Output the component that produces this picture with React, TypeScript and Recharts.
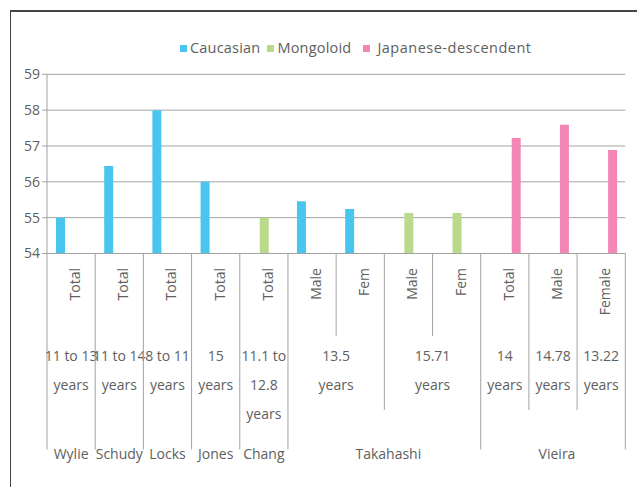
import { BarChart, Bar, XAxis, YAxis, CartesianGrid, Legend } from 'recharts'

const SUB_LABELS = ['Total', 'Total', 'Total', 'Total', 'Total', 'Male', 'Fem', 'Male', 'Fem', 'Total', 'Male', 'Female']
const AGES = [
    '11 to 13\nyears',
    '11 to 14\nyears',
    '8 to 11\nyears',
    '15\nyears',
    '11.1 to\n12.8\nyears',
    '13.5\nyears',
    '13.5\nyears',
    '15.71\nyears',
    '15.71\nyears',
    '14\nyears',
    '14.78\nyears',
    '13.22\nyears',
]
const AUTHORS = ['Wylie', 'Schudy', 'Locks', 'Jones', 'Chang', 'Takahashi', 'Takahashi', 'Takahashi', 'Takahashi', 'Vieira', 'Vieira', 'Vieira']

const CAUCASIAN = [55.0, 56.44, 58.0, 56.0, null, 55.46, 55.24, null, null, null, null, null]
const MONGOLOID = [null, null, null, null, 55.0, null, null, 55.13, 55.13, null, null, null]
const JAPANESE = [null, null, null, null, null, null, null, null, null, 57.22, 57.59, 56.89]

const Y_TICKS = [54, 55, 56, 57, 58, 59]

const SERIES = [
    { key: 'caucasian', name: 'Caucasian', color: '#48c6f0' },
    { key: 'mongoloid', name: 'Mongoloid', color: '#b9d98b' },
    { key: 'japanese', name: 'Japanese-descendent', color: '#f287b6' },
]

const W = 637
const H = 487
const MARGIN = { top: 74.3, right: 11.7, bottom: 0, left: 0 }
const Y_W = 47
const X_H = 233.5
const N = SUB_LABELS.length
const BAND = (W - MARGIN.left - MARGIN.right - Y_W) / N

const TEXT = '#606060'
const LINE = '#a3a3a3'
const FONT = "'Open Sans', sans-serif"

const data = SUB_LABELS.map((sub, i) => ({
    sub,
    caucasian: CAUCASIAN[i],
    mongoloid: MONGOLOID[i],
    japanese: JAPANESE[i],
}))

// depth of the separator line on the left of column i
function boundaryDepth(i: number) {
    if (i === 0 || i === N) return 196
    if (AUTHORS[i] !== AUTHORS[i - 1]) return 196
    if (AGES[i] !== AGES[i - 1]) return 156.5
    return 82.5
}

function span(labels: string[], i: number, same: (j: number) => boolean) {
    let n = 1
    while (i + n < labels.length && same(i + n)) n++
    return n
}

function MultiTick(props: any) {
    const { x, y, index } = props
    const left = x - BAND / 2
    const ageStart = index === 0 || AGES[index] !== AGES[index - 1] || AUTHORS[index] !== AUTHORS[index - 1]
    const authorStart = index === 0 || AUTHORS[index] !== AUTHORS[index - 1]
    const ageSpan = span(AGES, index, j => AGES[j] === AGES[index] && AUTHORS[j] === AUTHORS[index])
    const authorSpan = span(AUTHORS, index, j => AUTHORS[j] === AUTHORS[index])
    const authorX = left + (authorSpan * BAND) / 2 + (authorSpan > 1 ? 4 : 0)

    return (
        <g fontFamily={FONT} fontSize={14} fill={TEXT}>
            <line x1={left} x2={left} y1={y} y2={y + boundaryDepth(index)} stroke={LINE} />
            {index === N - 1 && (
                <line x1={left + BAND} x2={left + BAND} y1={y} y2={y + boundaryDepth(N)} stroke={LINE} />
            )}
            <text
                x={x + 9}
                y={y + 14.5}
                textAnchor="end"
                transform={`rotate(-90, ${x + 9}, ${y + 14.5})`}
            >
                {SUB_LABELS[index]}
            </text>
            {ageStart && (
                <text textAnchor="middle">
                    {AGES[index].split('\n').map((line, k) => (
                        <tspan key={k} x={left + (ageSpan * BAND) / 2} y={y + 107.5 + k * 29}>
                            {line}
                        </tspan>
                    ))}
                </text>
            )}
            {authorStart && (
                <text x={authorX} y={y + 205.5} textAnchor="middle">
                    {AUTHORS[index]}
                </text>
            )}
        </g>
    )
}

function LegendContent() {
    return (
        <div style={{ display: 'flex', alignItems: 'center', fontFamily: FONT, fontSize: 14.5, color: TEXT, lineHeight: '20px' }}>
            {SERIES.map((s, i) => (
                <div key={s.key} style={{ display: 'flex', alignItems: 'center', marginRight: i === 0 ? 7 : 12 }}>
                    <span style={{ width: 7, height: 7, background: s.color, marginRight: i === 2 ? 7 : 3, display: 'inline-block' }} />
                    <span style={{ letterSpacing: i === 2 ? 0.5 : 0.2 }}>{s.name}</span>
                </div>
            ))}
        </div>
    )
}

export default function App() {
    return (
        <div style={{ position: 'absolute', left: 0, top: 0, width: W, height: H, background: '#fff', overflow: 'hidden' }}>
            <div
                style={{
                    position: 'absolute',
                    left: 10,
                    top: 10,
                    width: 700,
                    height: 600,
                    borderTop: '2px solid #454545',
                    borderLeft: '1.5px solid #454545',
                    boxSizing: 'border-box',
                }}
            />
            <BarChart
                width={W}
                height={H}
                data={data}
                margin={MARGIN}
                barSize={9}
                barGap={2}
                style={{ fontFamily: FONT }}
            >
                <CartesianGrid vertical={false} stroke={LINE} />
                <XAxis
                    dataKey="sub"
                    interval={0}
                    height={X_H}
                    tickLine={false}
                    tickSize={0}
                    tickMargin={0}
                    axisLine={{ stroke: LINE }}
                    tick={<MultiTick />}
                />
                <YAxis
                    domain={[54, 59]}
                    ticks={Y_TICKS}
                    width={Y_W}
                    tickSize={5}
                    tickMargin={2}
                    tickLine={{ stroke: LINE }}
                    axisLine={{ stroke: LINE }}
                    tick={{ fill: TEXT, fontSize: 14 }}
                    allowDataOverflow
                />
                <YAxis
                    yAxisId="right"
                    orientation="right"
                    domain={[54, 59]}
                    width={0}
                    tick={false}
                    tickLine={false}
                    axisLine={{ stroke: LINE }}
                />
                <Legend
                    layout="horizontal"
                    verticalAlign="middle"
                    align="center"
                    wrapperStyle={{ left: 180, top: 38, width: 'auto' }}
                    content={<LegendContent />}
                />
                {SERIES.map(s => (
                    <Bar key={s.key} dataKey={s.key} name={s.name} fill={s.color} isAnimationActive={false} />
                ))}
            </BarChart>
        </div>
    )
}
